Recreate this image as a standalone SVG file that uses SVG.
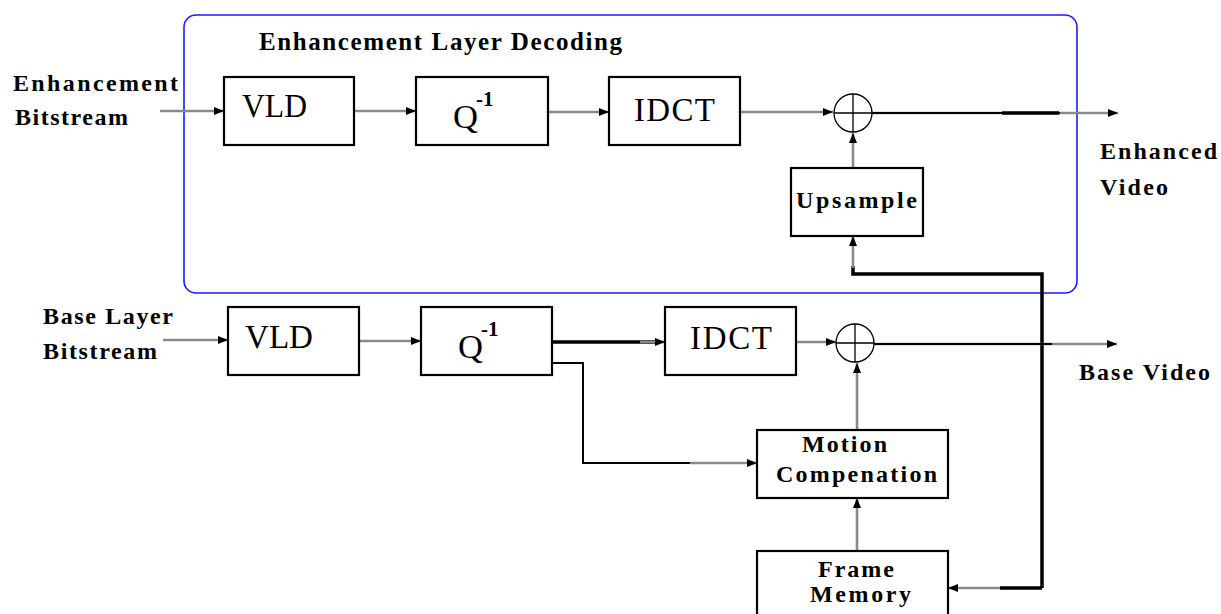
<svg xmlns="http://www.w3.org/2000/svg" width="1221" height="614" viewBox="0 0 1221 614">
<style>
.box{fill:#fff;stroke:#000;stroke-width:2.2}
.lbl{font-family:"Liberation Serif","Times New Roman",serif;font-weight:bold;fill:#000}
.big{font-family:"Liberation Serif","Times New Roman",serif;font-size:33px;fill:#000}
.g{fill:none;stroke:#8a8a8a;stroke-width:2.6}
.k{fill:none;stroke:#000;stroke-width:2}
.kk{fill:none;stroke:#000;stroke-width:3.5}
.add{fill:#fff;stroke:#000;stroke-width:1.3}
</style>
<defs>
<marker id="ah" viewBox="0 0 10 8" refX="10" refY="4" markerWidth="10" markerHeight="8" markerUnits="userSpaceOnUse" orient="auto">
<path d="M0,0 L10,4 L0,8 Z" fill="#000"/>
</marker>
</defs>
<rect x="0" y="0" width="1221" height="614" fill="#fff"/>
<rect id="enh-frame" x="184" y="15" width="893" height="278" rx="12" fill="none" stroke="#1a1aff" stroke-width="1.6"/>
<text class="lbl" x="259" y="50" font-size="25" textLength="363" lengthAdjust="spacing">Enhancement Layer Decoding</text>

<g id="connectors">
<!-- enhancement row -->
<line class="g" x1="160" y1="111" x2="224" y2="111" marker-end="url(#ah)"/>
<line class="g" x1="354" y1="111" x2="416" y2="111" marker-end="url(#ah)"/>
<line class="g" x1="548" y1="112" x2="609" y2="112" marker-end="url(#ah)"/>
<line class="g" x1="740" y1="112" x2="833" y2="112" marker-end="url(#ah)"/>
<line class="g" x1="872" y1="113" x2="1118" y2="113" marker-end="url(#ah)"/>
<line class="k" x1="872" y1="113" x2="1060" y2="113" stroke-width="1.8"/>
<line class="kk" x1="1002" y1="113" x2="1059" y2="113"/>
<line class="g" x1="853" y1="168" x2="853" y2="133" marker-end="url(#ah)"/>
<polyline class="kk" points="1042,588 1042,274 853,274 853,266"/>
<line class="g" x1="853" y1="268" x2="853" y2="236" marker-end="url(#ah)"/>
<!-- base row -->
<line class="g" x1="163" y1="340" x2="228" y2="340" marker-end="url(#ah)"/>
<line class="g" x1="359" y1="341" x2="421" y2="341" marker-end="url(#ah)"/>
<line class="kk" x1="552" y1="342" x2="660" y2="342"/>
<line class="g" x1="640" y1="342" x2="665" y2="342" marker-end="url(#ah)"/>
<line class="g" x1="796" y1="342" x2="836" y2="342" marker-end="url(#ah)"/>
<line class="g" x1="874" y1="344" x2="1117" y2="344" marker-end="url(#ah)"/>
<line class="k" x1="874" y1="344" x2="1052" y2="344" stroke-width="2"/>
<polyline class="k" points="552,363 583,363 583,463 695,463" stroke-width="2.6"/>
<line class="g" x1="690" y1="463" x2="757" y2="463" marker-end="url(#ah)"/>
<line class="g" x1="857" y1="430" x2="857" y2="363" marker-end="url(#ah)"/>
<line class="g" x1="857" y1="551" x2="857" y2="498" marker-end="url(#ah)"/>
<line class="g" x1="1002" y1="588" x2="948" y2="588" marker-end="url(#ah)"/>
<polyline class="kk" points="1042,588 1000,588"/>
</g>

<g id="enh-input-label">
<text class="lbl" x="13" y="91" font-size="24" textLength="165" lengthAdjust="spacing">Enhancement</text>
<text class="lbl" x="15" y="125" font-size="24" textLength="113" lengthAdjust="spacing">Bitstream</text>
</g>
<g id="enh-vld">
<rect class="box" x="224" y="77" width="130" height="68"/>
<text class="big" x="242" y="117" textLength="65" lengthAdjust="spacingAndGlyphs">VLD</text>
</g>
<g id="enh-iq">
<rect class="box" x="416" y="77" width="132" height="68"/>
<text class="big" x="453" y="128" textLength="25" lengthAdjust="spacingAndGlyphs">Q</text>
<text class="lbl" x="476" y="106" font-size="21">-1</text>
</g>
<g id="enh-idct">
<rect class="box" x="609" y="77" width="131" height="68"/>
<text class="big" x="634" y="121" textLength="81" lengthAdjust="spacing">IDCT</text>
</g>
<g id="enh-adder">
<circle class="add" cx="853" cy="113" r="19"/>
<line x1="834" y1="113" x2="872" y2="113" stroke="#000" stroke-width="1.3"/>
<line x1="853" y1="94" x2="853" y2="132" stroke="#000" stroke-width="1.3"/>
</g>
<g id="enh-upsample">
<rect class="box" x="791" y="168" width="132" height="68"/>
<text class="lbl" x="796" y="208" font-size="24" textLength="121" lengthAdjust="spacing">Upsample</text>
</g>
<g id="enh-output-label">
<text class="lbl" x="1100" y="159" font-size="24" textLength="117" lengthAdjust="spacing">Enhanced</text>
<text class="lbl" x="1100" y="195" font-size="24" textLength="68" lengthAdjust="spacing">Video</text>
</g>

<g id="base-input-label">
<text class="lbl" x="43" y="324" font-size="24" textLength="130" lengthAdjust="spacing">Base Layer</text>
<text class="lbl" x="43" y="359" font-size="24" textLength="114" lengthAdjust="spacing">Bitstream</text>
</g>
<g id="base-vld">
<rect class="box" x="228" y="307" width="131" height="68"/>
<text class="big" x="245" y="348" textLength="68" lengthAdjust="spacingAndGlyphs">VLD</text>
</g>
<g id="base-iq">
<rect class="box" x="421" y="307" width="131" height="68"/>
<text class="big" x="458" y="358" textLength="25" lengthAdjust="spacingAndGlyphs">Q</text>
<text class="lbl" x="481" y="336" font-size="21">-1</text>
</g>
<g id="base-idct">
<rect class="box" x="665" y="307" width="131" height="68"/>
<text class="big" x="690" y="349" textLength="82" lengthAdjust="spacing">IDCT</text>
</g>
<g id="base-adder">
<circle class="add" cx="855" cy="343" r="19"/>
<line x1="836" y1="343" x2="874" y2="343" stroke="#000" stroke-width="1.3"/>
<line x1="855" y1="324" x2="855" y2="362" stroke="#000" stroke-width="1.3"/>
</g>
<g id="base-output-label">
<text class="lbl" x="1079" y="380" font-size="24" textLength="131" lengthAdjust="spacing">Base Video</text>
</g>
<g id="motion-comp">
<rect class="box" x="757" y="430" width="191" height="68"/>
<text class="lbl" x="802" y="452" font-size="24" textLength="85" lengthAdjust="spacing">Motion</text>
<text class="lbl" x="776" y="482" font-size="24" textLength="161" lengthAdjust="spacing">Compenation</text>
</g>
<g id="frame-memory">
<rect class="box" x="757" y="551" width="191" height="70"/>
<text class="lbl" x="818" y="577" font-size="24" textLength="76" lengthAdjust="spacing">Frame</text>
<text class="lbl" x="810" y="602" font-size="24" textLength="101" lengthAdjust="spacing">Memory</text>
</g>
</svg>
